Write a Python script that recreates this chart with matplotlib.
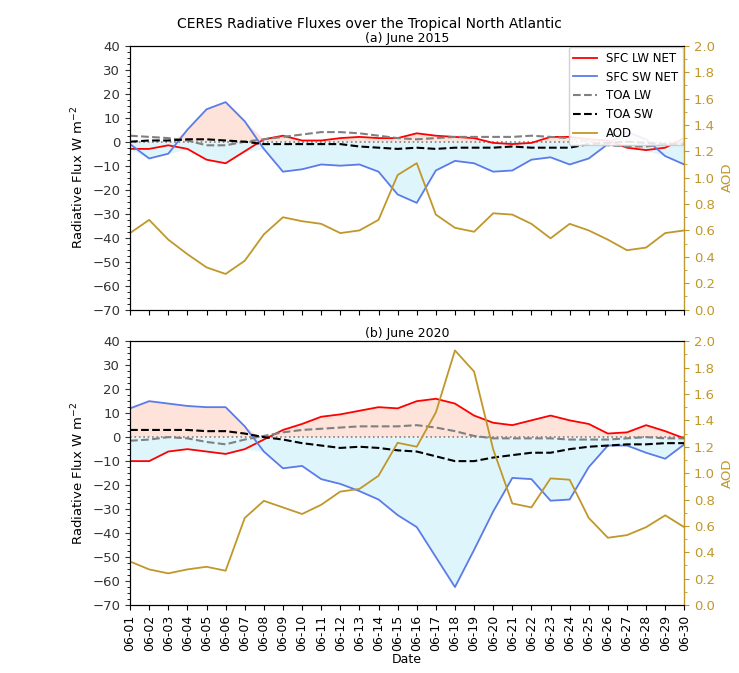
import numpy as np
import matplotlib
matplotlib.use("Agg")
import matplotlib.pyplot as plt
from matplotlib.ticker import MultipleLocator

dates = [f"06-{d:02d}" for d in range(1, 31)]

lw_2015 = [-3,-3,-1.5,-3,-7.5,-9,-4,1,2.5,0.5,0.5,1.5,2,1.5,1.5,3.5,2.5,2,1.5,-0.5,-1,-0.5,2,2,1,0.5,-2.5,-3.5,-2.5,1.5]
sw_2015 = [-1,-7,-5,5,13.5,16.5,8.5,-3,-12.5,-11.5,-9.5,-10,-9.5,-12.5,-22,-25.5,-12,-8,-9,-12.5,-12,-7.5,-6.5,-9.5,-7,-1,4,1,-6,-9.5]
toalw_2015 = [2.5,2,1.5,0.5,-1.5,-1.5,0,1,2,3,4,4,3.5,2.5,1.5,1,1.5,2,2,2,2,2.5,2,1.5,0,-1.5,-2,-2,-1,-0.5]
toasw_2015 = [0,0.5,0.5,1,1,0.5,0,-1,-1,-1,-1,-1,-2,-2.5,-3,-2.5,-3,-2.5,-2.5,-2.5,-2,-2.5,-2.5,-2.5,-1,-0.5,0,-0.5,-1,-1]
aod_2015 = [0.58,0.68,0.53,0.42,0.32,0.27,0.37,0.57,0.70,0.67,0.65,0.58,0.60,0.68,1.02,1.11,0.72,0.62,0.59,0.73,0.72,0.65,0.54,0.65,0.60,0.53,0.45,0.47,0.58,0.60]

lw_2020 = [-10,-10,-6,-5,-6,-7,-5,-1,3,5.5,8.5,9.5,11,12.5,12,15,16,14,9,6,5,7,9,7,5.5,1.5,2,5,2.5,-0.5]
sw_2020 = [12,15,14,13,12.5,12.5,4.5,-6,-13,-12,-17.5,-19.5,-22.5,-26,-32.5,-37.5,-50,-62.5,-47,-31,-17,-17.5,-26.5,-26,-12.5,-3.5,-3.5,-6.5,-9,-3]
toalw_2020 = [-1.5,-1,0,-0.5,-2,-3,-1,0.5,2,3,3.5,4,4.5,4.5,4.5,5,4,2.5,0.5,-0.5,-0.5,-0.5,-0.5,-1,-1,-1,-0.5,0,-0.5,-0.5]
toasw_2020 = [3,3,3,3,2.5,2.5,1.5,0,-1,-2.5,-3.5,-4.5,-4,-4.5,-5.5,-6,-8,-10,-10,-8.5,-7.5,-6.5,-6.5,-5,-4,-3.5,-3,-3,-2.5,-2.5]
aod_2020 = [0.33,0.27,0.24,0.27,0.29,0.26,0.66,0.79,0.74,0.69,0.76,0.86,0.88,0.98,1.23,1.20,1.46,1.93,1.77,1.18,0.77,0.74,0.96,0.95,0.66,0.51,0.53,0.59,0.68,0.59]

AODC = "#c0972a"
fig = plt.figure(figsize=(7.39, 6.73), dpi=100)
fig.suptitle("CERES Radiative Fluxes over the Tropical North Atlantic", y=0.975, fontsize=10)
x = np.arange(30)

def panel(rect, title, lw, sw, tlw, tsw, aod, legend, xlabels):
    ax = fig.add_axes(rect)
    lw = np.array(lw); sw = np.array(sw)
    hi = np.maximum(lw, sw); lo = np.minimum(lw, sw)
    ax.fill_between(x, 0, hi, where=hi > 0, interpolate=True, color="#fde3da", lw=0)
    ax.fill_between(x, 0, lo, where=lo < 0, interpolate=True, color="#dff5fc", lw=0)
    ax.axhline(0, color="gray", ls=":", lw=1.2)
    l1, = ax.plot(x, lw, color="red", lw=1.3, label="SFC LW NET")
    l2, = ax.plot(x, sw, color="#5a7be8", lw=1.3, label="SFC SW NET")
    l3, = ax.plot(x, tlw, color="gray", ls="--", lw=1.5, label="TOA LW")
    l4, = ax.plot(x, tsw, color="black", ls="--", lw=1.5, label="TOA SW")
    ax2 = ax.twinx()
    l5, = ax2.plot(x, aod, color=AODC, lw=1.3, label="AOD")
    ax.set_ylim(-70, 40); ax.set_xlim(0, 29)
    ax2.set_ylim(0, 2.0)
    ax.yaxis.set_major_locator(MultipleLocator(10))
    ax.yaxis.set_minor_locator(MultipleLocator(2.5))
    ax2.yaxis.set_major_locator(MultipleLocator(0.2))
    ax2.yaxis.set_minor_locator(MultipleLocator(0.1))
    ax.set_xticks(x)
    if xlabels:
        ax.set_xticklabels(dates, rotation=90, fontsize=9)
        ax.set_xlabel("Date", fontsize=9, labelpad=1)
    else:
        ax.set_xticklabels([])
    ax.tick_params(axis="y", labelsize=9.5, colors="#333333")
    ax.tick_params(axis="both", which="both", direction="out")
    ax2.tick_params(axis="y", which="both", colors=AODC, labelsize=9.5)
    ax2.spines["right"].set_color(AODC)
    ax.set_ylabel("Radiative Flux W m$^{-2}$", fontsize=9.5)
    ax2.set_ylabel("AOD", color=AODC, fontsize=9.5)
    ax.set_title(title, fontsize=9, pad=3)
    if legend:
        ax.legend(handles=[l1, l2, l3, l4, l5], loc="upper right", fontsize=8.5,
                  borderaxespad=0.1, framealpha=0.9, handlelength=2)

panel([0.176, 0.540, 0.75, 0.392], "(a) June 2015", lw_2015, sw_2015, toalw_2015, toasw_2015, aod_2015, True, False)
panel([0.176, 0.101, 0.75, 0.392], "(b) June 2020", lw_2020, sw_2020, toalw_2020, toasw_2020, aod_2020, False, True)
fig.savefig("out.png", dpi=100)
